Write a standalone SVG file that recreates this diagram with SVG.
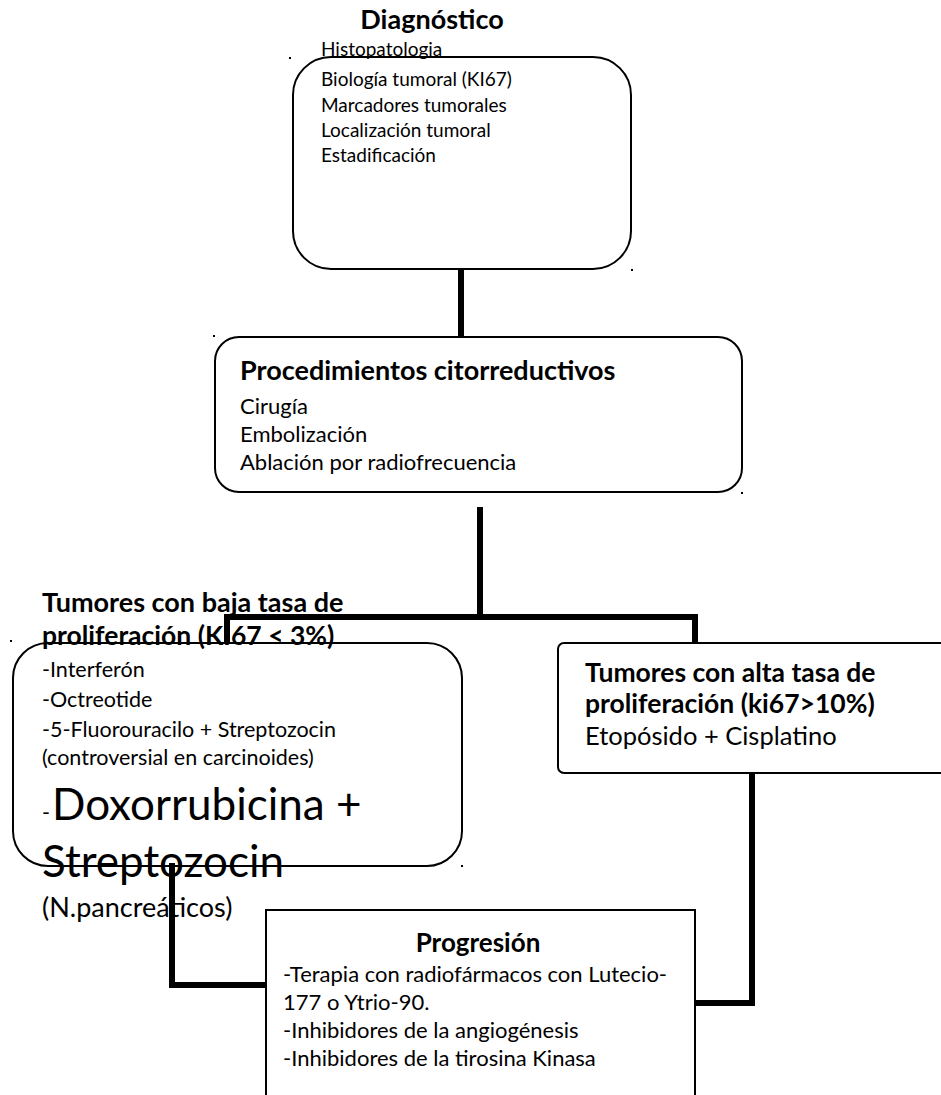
<svg xmlns="http://www.w3.org/2000/svg" width="941" height="1095" viewBox="0 0 941 1095">
<style>
  text { font-family: Lato, "Liberation Sans", sans-serif; fill: #000; }
  .b { font-weight: bold; }
  .box { fill: #fff; stroke: #000; stroke-width: 2; }
  .conn { fill: none; stroke: #000; stroke-width: 6; stroke-linejoin: miter; stroke-linecap: butt; }
  .dot { fill: #000; }
</style>
<rect width="941" height="1095" fill="#fff"/>
<g id="diagnostico">
  <rect class="box" x="293" y="57" width="338" height="212" rx="38"/>
  <text class="b" x="432" y="29" font-size="27" text-anchor="middle">Diagnóstico</text>
  <g font-size="19">
    <text x="321" y="56">Histopatologia</text>
    <text x="321" y="86">Biología tumoral (KI67)</text>
    <text x="321" y="112">Marcadores tumorales</text>
    <text x="321" y="137">Localización tumoral</text>
    <text x="321" y="162">Estadificación</text>
  </g>
  <rect class="dot" x="289" y="57" width="2" height="2"/>
  <rect class="dot" x="631" y="269" width="2" height="2"/>
</g>
<g id="citorreductivos">
  <rect class="box" x="215" y="337" width="527" height="155" rx="24"/>
  <text class="b" x="240" y="380" font-size="27">Procedimientos citorreductivos</text>
  <g font-size="22">
    <text x="240" y="414">Cirugía</text>
    <text x="240" y="442">Embolización</text>
    <text x="240" y="470">Ablación por radiofrecuencia</text>
  </g>
  <rect class="dot" x="213" y="335" width="2" height="2"/>
  <rect class="dot" x="741" y="492" width="2" height="2"/>
</g>
<g id="baja">
  <rect class="box" x="13" y="643" width="449" height="223" rx="35"/>
  <text class="b" x="42" y="612" font-size="27">Tumores con baja tasa de</text>
  <text class="b" x="42" y="645" font-size="26.5">proliferación (KI67 &lt; 3%)</text>
  <g font-size="21.5">
    <text x="42" y="677">-Interferón</text>
    <text x="42" y="707">-Octreotide</text>
    <text x="42" y="737">-5-Fluorouracilo + Streptozocin</text>
    <text x="42" y="765">(controversial en carcinoides)</text>
  </g>
  <text x="42" y="820" font-size="21.5">-</text>
  <text x="52" y="820" font-size="44">Doxorrubicina +</text>
  <text x="42" y="877" font-size="44">Streptozocin</text>
  <text x="42" y="917" font-size="27">(N.pancreáticos)</text>
  <rect class="dot" x="10" y="640" width="2" height="2"/>
  <rect class="dot" x="461" y="865" width="2" height="2"/>
</g>
<g id="alta">
  <rect class="box" x="558" y="643" width="400" height="130" rx="6" stroke-width="1.5"/>
  <text class="b" x="585" y="682" font-size="26.5">Tumores con alta tasa de</text>
  <text class="b" x="585" y="713" font-size="26.5">proliferación (ki67&gt;10%)</text>
  <text x="585" y="745" font-size="25.5">Etopósido + Cisplatino</text>
</g>
<g id="progresion">
  <rect class="box" x="266" y="910" width="429" height="200"/>
  <text class="b" x="478" y="952" font-size="26" text-anchor="middle">Progresión</text>
  <g font-size="22">
    <text x="283" y="982">-Terapia con radiofármacos con Lutecio-</text>
    <text x="283" y="1010">177 o Ytrio-90.</text>
    <text x="283" y="1038">-Inhibidores de la angiogénesis</text>
    <text x="283" y="1066">-Inhibidores de la tirosina Kinasa</text>
  </g>
</g>
<g id="connectors">
  <path class="conn" d="M461,269 V337"/>
  <path class="conn" d="M480,507 V617"/>
  <path class="conn" d="M227,643 V617 H695 V643"/>
  <path class="conn" d="M752,773 V1003 H695"/>
  <path class="conn" d="M172,863 V985 H266"/>
</g>
</svg>
